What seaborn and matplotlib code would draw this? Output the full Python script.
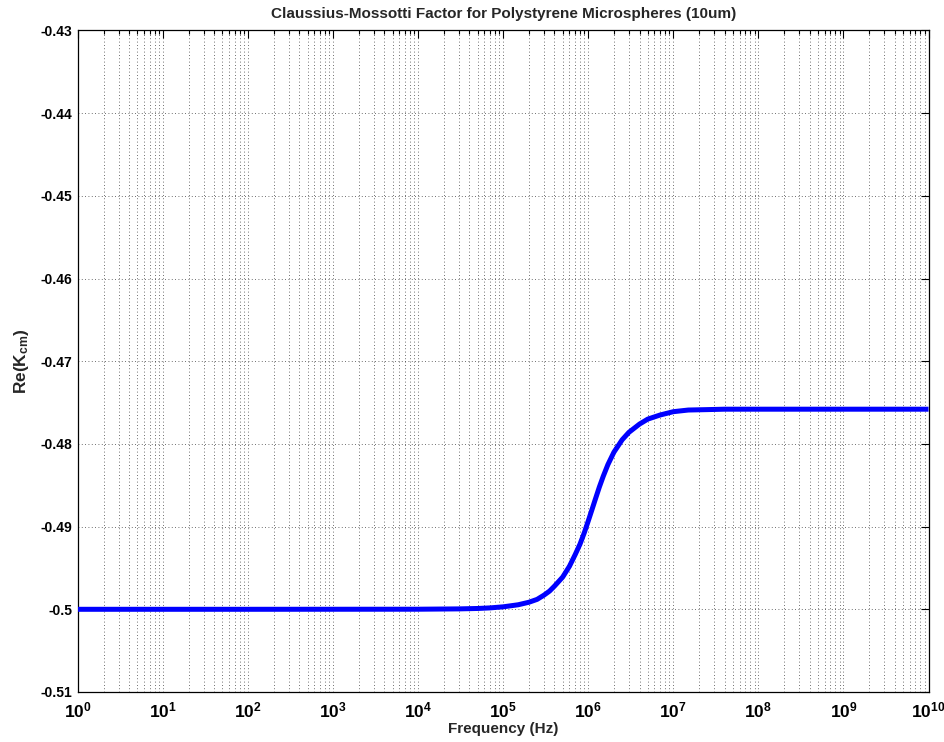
import numpy as np
import pandas as pd
import matplotlib
matplotlib.use("Agg")
import matplotlib.pyplot as plt
import matplotlib.ticker as mticker
import seaborn as sns

# Real part of the Clausius-Mossotti factor versus frequency
freq_hz = [1, 1e2, 1e4, 3e4, 5e4, 7e4, 1e5, 1.5e5, 2e5, 2.5e5, 3e5, 3.5e5,
           4e5, 5e5, 6e5, 7e5, 8e5, 9e5, 1e6, 1.1e6, 1.2e6, 1.35e6, 1.5e6,
           1.7e6, 2e6, 2.5e6, 3e6, 4e6, 5e6, 7e6, 1e7, 1.5e7, 2.5e7, 4e7,
           1e8, 1e9, 1e10]
re_kcm = [-0.5, -0.5, -0.49999, -0.49995, -0.4999, -0.49983, -0.4997,
          -0.49945, -0.49915, -0.4988, -0.4983, -0.4978, -0.4972, -0.4961,
          -0.4948, -0.4934, -0.4921, -0.4907, -0.4893, -0.4880, -0.4868,
          -0.4852, -0.4839, -0.4825, -0.4810, -0.4795, -0.4786, -0.4776,
          -0.4770, -0.4765, -0.4761, -0.4759, -0.47585, -0.4758,
          -0.4758, -0.4758, -0.4758]

x_decades = list(range(0, 11))
y_ticks = [-0.51, -0.50, -0.49, -0.48, -0.47, -0.46, -0.45, -0.44, -0.43]
y_tick_labels = ["-0.51", "-0.5", "-0.49", "-0.48", "-0.47", "-0.46",
                 "-0.45", "-0.44", "-0.43"]

title = "Claussius-Mossotti Factor for Polystyrene Microspheres (10um)"
x_label = "Frequency (Hz)"
y_label = r"Re(K$_{\rm cm}$)"

sns.set_style("white")
plt.rcParams["font.family"] = ["Liberation Sans", "DejaVu Sans"]
plt.rcParams["font.weight"] = "bold"
plt.rcParams["mathtext.fontset"] = "custom"
plt.rcParams["mathtext.rm"] = "Liberation Sans:bold"
plt.rcParams["mathtext.bf"] = "Liberation Sans:bold"
plt.rcParams["mathtext.it"] = "Liberation Sans:bold"

df = pd.DataFrame({"freq": freq_hz, "re": re_kcm})

fig = plt.figure(figsize=(9.44, 7.42), dpi=100)
ax = fig.add_axes([0.0826, 0.0674, 0.9010, 0.8915])

sns.lineplot(data=df, x="freq", y="re", ax=ax, color="#0000ff",
             linewidth=3.6, estimator=None, sort=True, zorder=3)
for ln in ax.get_lines():
    ln.set_solid_joinstyle("round")
    ln.set_solid_capstyle("butt")

ax.set_xscale("log")
ax.set_xlim(10.0 ** x_decades[0], 10.0 ** x_decades[-1])
ax.set_ylim(y_ticks[0], y_ticks[-1])

ax.set_xticks([10.0 ** d for d in x_decades])
ax.set_xticklabels([r"$\mathbf{10^{%d}}$" % d for d in x_decades],
                   fontsize=12.5)
ax.xaxis.set_minor_locator(mticker.LogLocator(base=10, subs=np.arange(2, 10),
                                              numticks=100))
ax.xaxis.set_minor_formatter(mticker.NullFormatter())

ax.set_yticks(y_ticks)
ax.set_yticklabels(y_tick_labels, fontsize=10, fontweight="bold")

grid_style = dict(color="black", linestyle=(0, (1, 3)), linewidth=0.6,
                  alpha=0.75)
ax.grid(True, which="major", axis="both", **grid_style)
ax.grid(True, which="minor", axis="x", **grid_style)

ax.tick_params(which="both", direction="in", top=True, right=True,
               colors="black", width=0.8)
ax.tick_params(which="major", length=5.5, pad=4)
ax.tick_params(which="minor", length=3)
ax.tick_params(axis="x", which="major", pad=6)

for side in ax.spines.values():
    side.set_color("black")
    side.set_linewidth(0.9)

ax.set_title(title, fontsize=11, fontweight="bold", pad=9)
ax.set_xlabel(x_label, fontsize=11, fontweight="bold", labelpad=1)
ax.set_ylabel(y_label, fontsize=12.5, fontweight="bold", labelpad=7)

fig.savefig("out.png", dpi=100)
